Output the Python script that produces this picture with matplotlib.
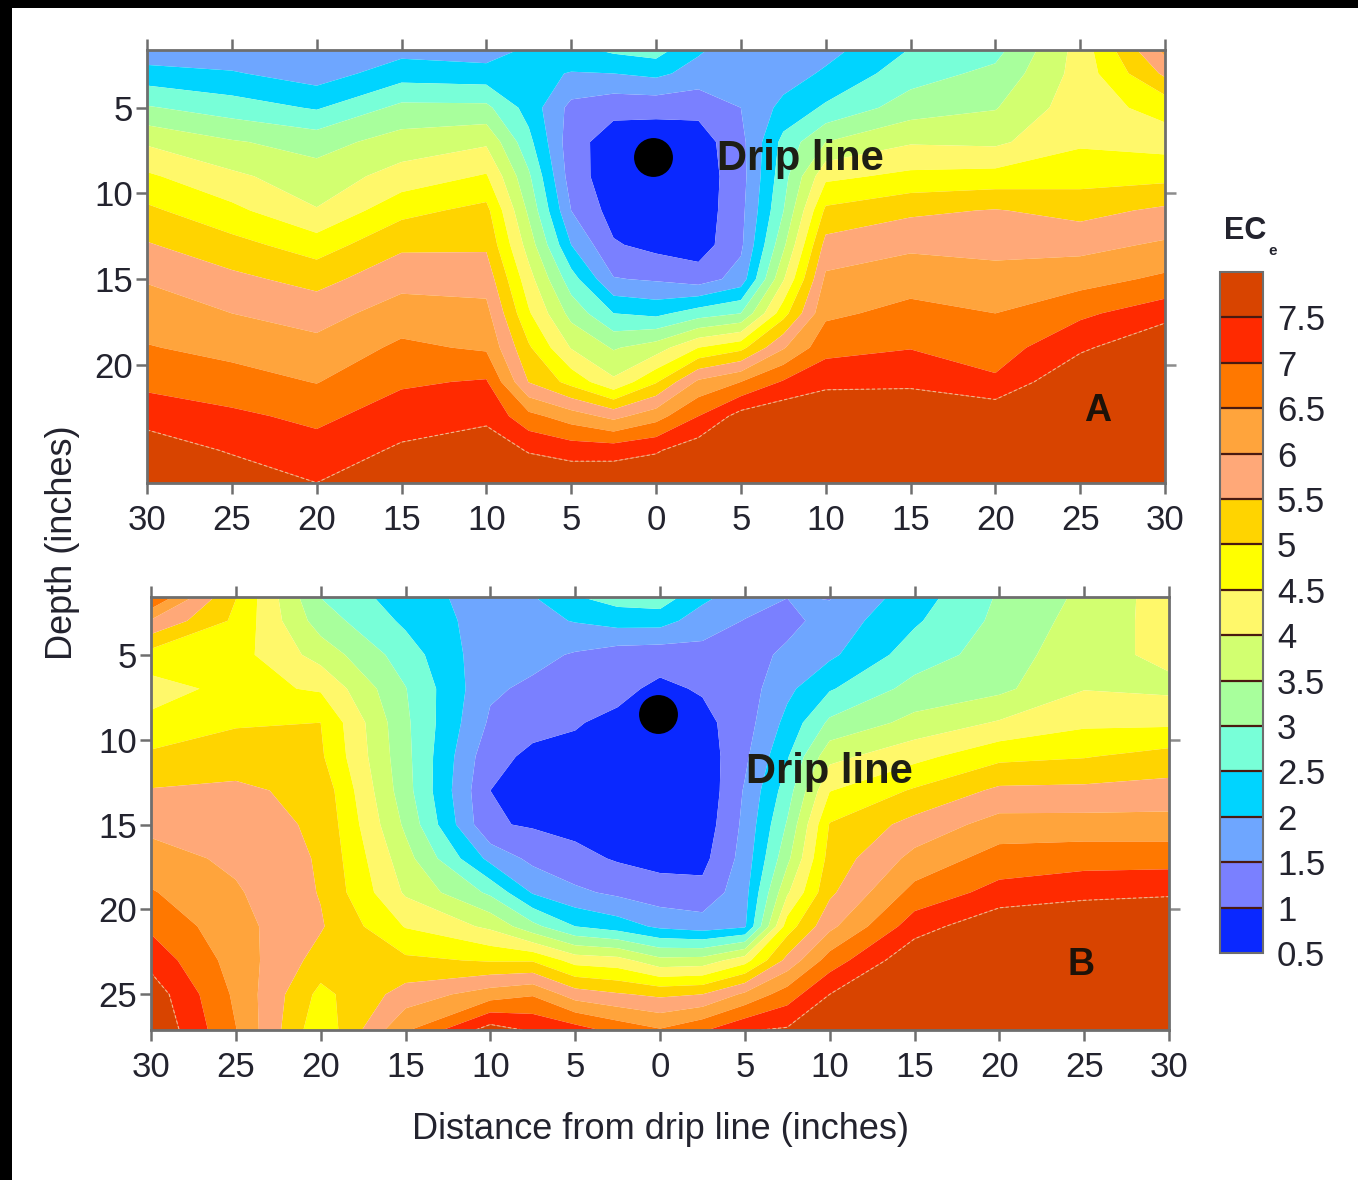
import matplotlib
matplotlib.use("Agg")
import matplotlib.pyplot as plt
from matplotlib.patches import Rectangle
import numpy as np

W, H = 1358, 1180

distance = [-30, -25, -20, -15, -10, -7.5, -5, -2.5, 0, 2.5, 5, 7.5, 10, 15, 20, 25, 30]
depth = [1.5, 3, 5, 7, 9, 11, 13, 15, 17, 19, 21, 23, 25, 27.2]

# Each row lists EC_e at one distance column, top (shallow) to bottom (deep)
ec_a_by_distance = [
    [1.6, 2.2, 3.05, 3.93, 4.58, 5.1, 5.54, 5.96, 6.25, 6.53, 6.87, 7.3, 7.8, 8],
    [1.6, 2.05, 2.75, 3.55, 4.1, 4.63, 5.17, 5.62, 6.0, 6.35, 6.7, 7.1, 7.45, 7.9],
    [1.55, 1.75, 2.45, 3.3, 3.72, 4.03, 4.75, 5.33, 5.8, 6.15, 6.48, 6.88, 7.2, 7.55],
    [1.8, 2.27, 3.13, 3.72, 4.2, 4.85, 5.4, 5.83, 6.23, 6.6, 6.93, 7.25, 7.58, 7.9],
    [1.7, 2.2, 3.12, 3.92, 4.55, 5.15, 5.42, 5.8, 6.15, 6.43, 7.05, 7.4, 7.75, 8],
    [2.05, 2.15, 2.3, 2.65, 3.08, 3.4, 3.78, 4.2, 4.56, 5.07, 5.48, 6.65, 7.47, 7.9],
    [2.4, 1.97, 1.35, 1.2, 1.25, 1.5, 2.0, 2.72, 3.33, 3.97, 4.83, 6.25, 7.3, 8],
    [2.65, 2.0, 1.15, 0.75, 0.7, 0.8, 1.05, 1.53, 2.5, 3.45, 4.1, 5.85, 7.3, 8],
    [2.78, 2.12, 1.15, 0.7, 0.62, 0.65, 0.85, 1.44, 2.37, 3.75, 4.95, 6.3, 7.45, 8],
    [2.1, 1.8, 1.15, 0.75, 0.7, 0.7, 0.75, 1.25, 2.75, 4.5, 6.1, 7.0, 7.8, 8],
    [1.7, 1.65, 1.5, 1.35, 1.3, 1.35, 1.4, 1.7, 3.0, 4.85, 6.5, 7.7, 8, 8],
    [1.55, 1.75, 2.15, 2.65, 2.8, 2.98, 3.38, 3.95, 4.8, 5.95, 7.05, 7.9, 8, 8],
    [1.8, 2.08, 2.58, 3.5, 4.38, 5.1, 5.67, 6.1, 6.4, 6.83, 7.35, 8, 8, 8],
    [2.5, 2.78, 3.25, 3.95, 4.62, 5.4, 5.9, 6.3, 6.65, 6.98, 7.38, 8, 8, 8],
    [2.8, 3.13, 3.47, 3.9, 4.68, 5.53, 5.83, 6.2, 6.5, 6.77, 7.08, 7.9, 8, 8],
    [4.2, 4.2, 4.3, 4.43, 4.8, 5.33, 5.85, 6.3, 6.9, 7.4, 8, 8, 8, 8],
    [6.2, 5.6, 4.65, 4.3, 4.85, 5.6, 6.07, 6.6, 7.3, 8, 8, 8, 8, 8],
]

ec_b_by_distance = [
    [7.1, 5.95, 4.8, 4.3, 4.62, 5.1, 5.53, 5.87, 6.2, 6.54, 6.9, 7.33, 7.8, 8],
    [5.02, 4.9, 4.7, 4.65, 4.95, 5.25, 5.6, 5.72, 5.9, 6.06, 6.17, 6.28, 6.4, 6.52],
    [2.97, 3.25, 3.8, 4.44, 5.0, 5.08, 5.35, 5.42, 5.45, 5.47, 5.55, 5.3, 4.85, 4.6],
    [2.2, 2.4, 2.75, 3.02, 3.1, 3.15, 3.2, 3.4, 3.7, 3.93, 4.47, 5.1, 5.7, 6.5],
    [1.8, 1.75, 1.65, 1.58, 1.42, 1.15, 1.0, 1.05, 1.85, 2.9, 3.9, 4.95, 6.25, 7.8],
    [2.0, 1.85, 1.65, 1.4, 1.15, 0.9, 0.85, 0.95, 1.37, 1.95, 3.15, 4.95, 6.45, 7.5],
    [2.5, 2.03, 1.45, 1.25, 1.03, 0.9, 0.8, 0.85, 1.15, 1.6, 2.5, 4.3, 5.75, 7.3],
    [2.75, 2.2, 1.25, 1.12, 0.9, 0.75, 0.68, 0.75, 0.95, 1.4, 2.25, 4.2, 5.55, 6.9],
    [2.85, 2.2, 1.2, 0.9, 0.7, 0.6, 0.6, 0.65, 0.85, 1.2, 1.9, 3.65, 5.4, 6.6],
    [2.15, 1.75, 1.33, 1.05, 0.85, 0.7, 0.62, 0.7, 0.85, 1.15, 1.75, 3.7, 5.5, 7.0],
    [1.75, 1.48, 1.3, 1.25, 1.28, 1.4, 1.55, 1.62, 1.7, 1.82, 1.93, 4.3, 6.1, 7.5],
    [1.52, 1.35, 1.6, 1.88, 2.15, 2.45, 2.75, 3.05, 3.37, 3.93, 4.75, 5.65, 6.75, 7.6],
    [1.45, 1.7, 1.9, 2.45, 3.1, 3.85, 4.48, 5.03, 5.2, 5.4, 5.87, 6.73, 7.5, 8],
    [2.25, 2.43, 2.75, 3.17, 3.65, 4.35, 5.06, 5.67, 6.15, 6.67, 7.27, 7.9, 8, 8],
    [3.05, 3.12, 3.22, 3.38, 4.05, 4.87, 5.6, 6.2, 6.72, 7.17, 7.9, 8, 8, 8],
    [3.6, 3.7, 3.85, 3.98, 4.4, 4.97, 5.62, 6.2, 6.8, 7.35, 8, 8, 8, 8],
    [4.25, 4.2, 4.1, 3.9, 4.4, 5.2, 5.68, 6.2, 6.8, 7.43, 8, 8, 8, 8],
]

levels = [0.5, 1, 1.5, 2, 2.5, 3, 3.5, 4, 4.5, 5, 5.5, 6, 6.5, 7, 7.5, 8.1]
band_colors = ["#0a28ff", "#7a80ff", "#6ea6ff", "#00d4ff", "#78ffd8", "#a8ff9c",
               "#d2ff70", "#fff86a", "#ffff00", "#ffd400", "#ffa878", "#ffa43c",
               "#ff7800", "#ff2a00", "#d84400"]
x_ticks = [-30, -25, -20, -15, -10, -5, 0, 5, 10, 15, 20, 25, 30]
cbar_ticks = [0.5, 1, 1.5, 2, 2.5, 3, 3.5, 4, 4.5, 5, 5.5, 6, 6.5, 7, 7.5]
cbar_labels = ["0.5", "1", "1.5", "2", "2.5", "3", "3.5", "4", "4.5", "5", "5.5", "6", "6.5", "7", "7.5"]

SANS = "Liberation Sans"
INK = "#23232e"
GRAY = "#6e6e6e"

fig = plt.figure(figsize=(W / 100, H / 100), dpi=100, facecolor="white")


def axes_px(l, t, r, b):
    return fig.add_axes([l / W, 1 - b / H, (r - l) / W, (b - t) / H])


def panel(box, ec_columns, ylim, yticks, right_ticks, letter, letter_xy, drip_xy, label_xy):
    ax = axes_px(*box)
    Z = np.array(ec_columns).T
    cf = ax.contourf(distance, depth, Z, levels=levels, colors=band_colors, antialiased=True)
    ax.contour(distance, depth, Z, levels=[7.5], colors="#f2b58c", linewidths=0.8,
               linestyles=[(0, (3, 2))])
    ax.set_xlim(-30, 30)
    ax.set_ylim(*ylim)
    ax.set_xticks(x_ticks)
    ax.set_xticklabels([str(abs(t)) for t in x_ticks], family=SANS, fontsize=25, color=INK)
    ax.set_yticks(yticks)
    ax.set_yticklabels([str(t) for t in yticks], family=SANS, fontsize=25, color=INK)
    ax.tick_params(axis="x", top=True, bottom=True, direction="out", length=8, width=1.8,
                   color=GRAY, pad=7)
    ax.tick_params(axis="y", left=True, direction="out", length=8, width=1.8, color=GRAY, pad=2)
    for s in ax.spines.values():
        s.set_color(GRAY)
        s.set_linewidth(2)
    rax = ax.secondary_yaxis("right")
    rax.set_yticks(right_ticks)
    rax.set_yticklabels([])
    rax.tick_params(direction="out", length=8, width=1.8, color="#8c8c8c")
    rax.spines["right"].set_visible(False)
    ax.plot(*drip_xy, "o", color="black", ms=28, mew=0, zorder=5)
    ax.text(*label_xy, "Drip line", family=SANS, weight="bold", fontsize=30,
            color="#1e1e14", va="center", ha="center", zorder=6)
    ax.text(*letter_xy, letter, family=SANS, weight="bold", fontsize=27,
            color="#1e1208", va="center", ha="center", zorder=6)
    return ax, cf


ax_a, cf_a = panel((147, 50, 1165, 483), ec_a_by_distance, (26.9, 1.63), [5, 10, 15, 20],
                   [10, 20], "A", (26.0, 22.7), (-0.2, 7.9), (8.5, 8.0))
ax_b, cf_b = panel((151, 597, 1169, 1030), ec_b_by_distance, (27.1, 1.6), [5, 10, 15, 20, 25],
                   [10, 20], "B", (24.8, 23.3), (-0.1, 8.5), (10.0, 11.9))

ax_b.set_xlabel("Distance from drip line (inches)", family=SANS, fontsize=26, color=INK, labelpad=20)
fig.text(62 / W, 1 - 543 / H, "Depth (inches)", family=SANS, fontsize=26, color=INK,
         rotation=90, ha="center", va="center")

cax = axes_px(1220, 272, 1263, 953)
cb = fig.colorbar(cf_a, cax=cax, drawedges=True, spacing="uniform")
cb.dividers.set_color("#4a1a10")
cb.dividers.set_linewidth(1.6)
cb.outline.set_edgecolor(GRAY)
cb.outline.set_linewidth(1.5)
cb.set_ticks(cbar_ticks)
cb.set_ticklabels(cbar_labels)
cax.tick_params(length=0, pad=10)
for t in cax.get_yticklabels():
    t.set_family(SANS)
    t.set_fontsize(25)
    t.set_color(INK)

fig.text(1224 / W, 1 - 231 / H, "EC", family=SANS, weight="bold", fontsize=22, color=INK, va="center", ha="left")
fig.text(1268 / W, 1 - 251 / H, "e", family=SANS, weight="bold", fontsize=11, color=INK, va="center", ha="left")

# black scan edges on the left and top of the picture
fig.add_artist(Rectangle((0, 0), 12 / W, 1, transform=fig.transFigure, color="black", lw=0))
fig.add_artist(Rectangle((0, 1 - 8 / H), 1, 8 / H, transform=fig.transFigure, color="black", lw=0))

fig.savefig("out.png", dpi=100, facecolor="white")
